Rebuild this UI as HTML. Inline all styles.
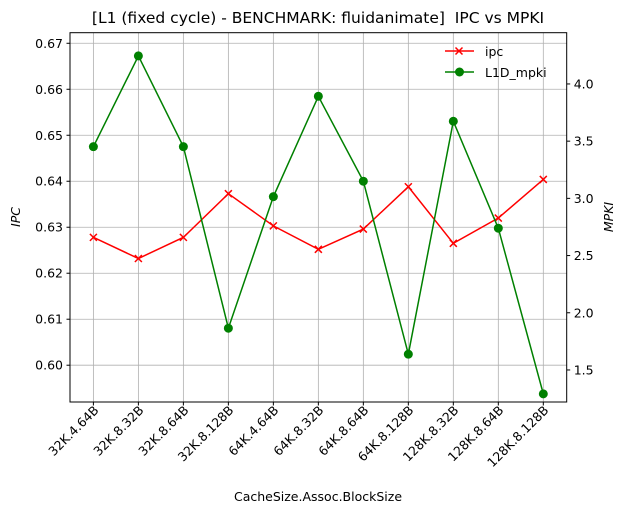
<!DOCTYPE html>
<html><head><meta charset="utf-8"><style>
body{margin:0;background:#fff}
svg{font-family:"DejaVu Sans","Liberation Sans",sans-serif}
</style></head><body>
<svg width="627" height="514" viewBox="0 0 627 514">
<text x="318" y="23" font-size="15.5" text-anchor="middle" style="white-space:pre" xml:space="preserve">[L1 (fixed cycle) - BENCHMARK: fluidanimate]  IPC vs MPKI</text>
<g id="grid"></g>
<g id="axes"></g>
<g id="series"></g>
<rect x="70" y="32.7" width="496.7" height="369.3" fill="none" stroke="#000" stroke-width="1"/>
<text x="318" y="501" font-size="12.5" text-anchor="middle">CacheSize.Assoc.BlockSize</text>
<text transform="translate(20,217) rotate(-90)" font-size="12.5" font-style="italic" text-anchor="middle">IPC</text>
<text transform="translate(613,217) rotate(-90)" font-size="12.5" font-style="italic" text-anchor="middle">MPKI</text>
<g>
<line x1="445" y1="51" x2="474" y2="51" stroke="red" stroke-width="1.5"/>
<path d="M455.5,47.5l7,7m0,-7l-7,7" stroke="red" stroke-width="1.5"/>
<text x="485" y="56" font-size="12.5">ipc</text>
<line x1="445" y1="72" x2="474" y2="72" stroke="green" stroke-width="1.5"/>
<circle cx="459.5" cy="72" r="4.5" fill="green"/>
<text x="485" y="77" font-size="12.5">L1D_mpki</text>
</g>
</svg>
<script>
const categories=["32K.4.64B","32K.8.32B","32K.8.64B","32K.8.128B","64K.4.64B","64K.8.32B","64K.8.64B","64K.8.128B","128K.8.32B","128K.8.64B","128K.8.128B"];
const ipcValues=[0.6278,0.6232,0.6278,0.6373,0.6303,0.6252,0.6296,0.6388,0.6265,0.6320,0.6404];
const mpkiValues=[3.452,4.245,3.452,1.865,3.015,3.892,3.150,1.638,3.674,2.739,1.291];
const leftTicks=["0.60","0.61","0.62","0.63","0.64","0.65","0.66","0.67"];
const rightTicks=["1.5","2.0","2.5","3.0","3.5","4.0"];
const NS="http://www.w3.org/2000/svg";
const L=70,R=566.7,T=32.7,B=402;
const xS=i=>L+(i+0.52)*(R-L)/(categories.length-1+1.04);
const yL=v=>T+(0.6723-v)/(0.6723-0.592)*(B-T);
const yR=v=>T+(4.448-v)/(4.448-1.220)*(B-T);
function mk(tag,attrs,parent){const e=document.createElementNS(NS,tag);for(const k in attrs)e.setAttribute(k,attrs[k]);parent.appendChild(e);return e;}
const grid=document.getElementById('grid'),axes=document.getElementById('axes'),ser=document.getElementById('series');
categories.forEach((c,i)=>{const x=xS(i);
 const g=mk('line',{x1:x,x2:x,y1:T,y2:B,stroke:'#b0b0b0','stroke-width':0.8},grid);
 
 
 mk('line',{x1:x,x2:x,y1:B,y2:B+3.5,stroke:'#000'},axes);
 const t=mk('text',{transform:`translate(${x+6},${B+9}) rotate(-45)`,'font-size':12.5,'text-anchor':'end'},axes);
 t.textContent=c;
 
 
});
leftTicks.forEach(s=>{const y=yL(parseFloat(s));
 const g=mk('line',{x1:L,x2:R,y1:y,y2:y,stroke:'#b0b0b0','stroke-width':0.8},grid);
 
 
 mk('line',{x1:L-3.5,x2:L,y1:y,y2:y,stroke:'#000'},axes);
 const t=mk('text',{x:L-7,y:y+4.5,'font-size':12.5,'text-anchor':'end'},axes);
 t.textContent=s;
 
 
});
rightTicks.forEach(s=>{const y=yR(parseFloat(s));
 mk('line',{x1:R,x2:R+3.5,y1:y,y2:y,stroke:'#000'},axes);
 const t=mk('text',{x:R+7,y:y+4.5,'font-size':12.5},axes);
 t.textContent=s;
 
 
});
const ip=mk('polyline',{points:ipcValues.map((v,i)=>xS(i)+','+yL(v)).join(' '),fill:'none',stroke:'red','stroke-width':1.5},ser);


ipcValues.forEach((v,i)=>{const x=xS(i),y=yL(v);
 const m=mk('path',{d:`M${x-3.5},${y-3.5}l7,7m0,-7l-7,7`,stroke:'red','stroke-width':1.5},ser);
 
 
});
const mp=mk('polyline',{points:mpkiValues.map((v,i)=>xS(i)+','+yR(v)).join(' '),fill:'none',stroke:'green','stroke-width':1.5},ser);


mpkiValues.forEach((v,i)=>{
 const m=mk('circle',{cx:xS(i),cy:yR(v),r:4.5,fill:'green'},ser);
 
 
});
</script>
</body></html>
